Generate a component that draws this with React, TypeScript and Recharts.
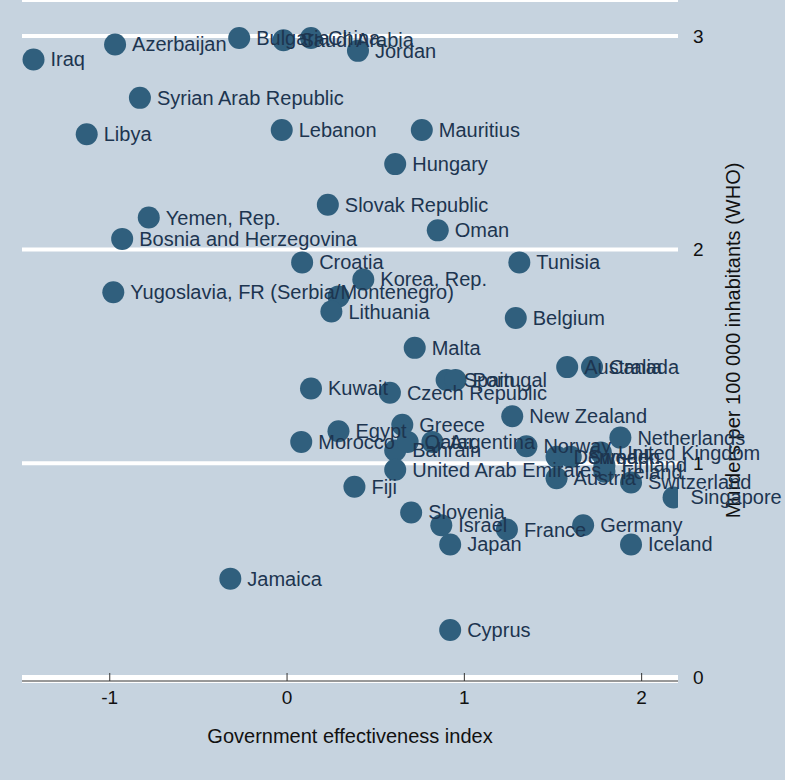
import React from 'react';
import { ScatterChart, Scatter, XAxis, YAxis, CartesianGrid, LabelList } from 'recharts';

const countries = ['Iraq','Azerbaijan','Bulgaria','China','Saudi Arabia','Jordan','Syrian Arab Republic','Libya','Lebanon','Mauritius','Hungary','Slovak Republic','Yemen, Rep.','Bosnia and Herzegovina','Oman','Croatia','Tunisia','Korea, Rep.','Yugoslavia, FR (Serbia/Montenegro)','','Lithuania','Belgium','Malta','Spain','Portugal','Australia','Canada','Kuwait','Czech Republic','New Zealand','Greece','Egypt','Morocco','Bahrain','Qatar','Argentina','Norway','Netherlands','United Kingdom','Denmark','Sweden','United Arab Emirates','Austria','Finland','Ireland','Switzerland','Singapore','Fiji','Slovenia','Israel','France','Germany','Japan','Iceland','Jamaica','Cyprus'];
const effectiveness = [-1.43,-0.97,-0.27,0.135,-0.02,0.40,-0.83,-1.13,-0.03,0.76,0.61,0.23,-0.78,-0.93,0.85,0.085,1.31,0.43,-0.98,0.29,0.25,1.29,0.72,0.90,0.95,1.58,1.72,0.135,0.58,1.27,0.65,0.29,0.08,0.61,0.68,0.82,1.35,1.88,1.77,1.52,1.60,0.61,1.52,1.79,1.79,1.94,2.18,0.38,0.70,0.87,1.24,1.67,0.92,1.94,-0.32,0.92];
const murders = [2.89,2.96,2.99,2.99,2.98,2.93,2.71,2.54,2.56,2.56,2.40,2.21,2.15,2.05,2.09,1.94,1.94,1.86,1.80,1.78,1.71,1.68,1.54,1.39,1.39,1.45,1.45,1.35,1.33,1.22,1.18,1.15,1.10,1.06,1.10,1.10,1.08,1.12,1.05,1.03,1.03,0.97,0.93,0.99,0.96,0.91,0.84,0.89,0.77,0.71,0.69,0.71,0.62,0.62,0.46,0.22];
const xTicks = [-1, 0, 1, 2];
const yTicks = [0, 1, 2, 3];

const data = countries.map((c, i) => ({ name: c, x: effectiveness[i], y: murders[i] }));
const font = 'Liberation Sans, Arial, sans-serif';

const PointLabel = (p: any) => (
  <text x={p.x + p.width / 2 + 17} y={p.y + p.height / 2} dy="0.35em" fill="#1d3550" fontSize={20} fontFamily={font}>{p.value}</text>
);

export default function App() {
  return (
    <div style={{ position: 'absolute', left: 0, top: 0, width: 785, height: 780, background: '#c6d3df', fontFamily: font }}>
      <ScatterChart width={785} height={780} margin={{ top: 0, right: 0, bottom: 0, left: 22 }}>
        <CartesianGrid horizontal={true} vertical={false} stroke="#ffffff" strokeWidth={4} />
        <XAxis type="number" dataKey="x" domain={[-1.495, 2.205]} ticks={xTicks} height={99}
          allowDataOverflow tickSize={-8} tickMargin={4}
          stroke="#333" tick={{ fill: '#111', fontSize: 19, fontFamily: font, dy: 14 }}
          label={{ value: 'Government effectiveness index', position: 'insideTop', offset: 48, fill: '#111', fontSize: 20, fontFamily: font }} />
        <YAxis type="number" dataKey="y" orientation="right" domain={[-0.019, 3.168]} ticks={yTicks} width={107}
          allowDataOverflow axisLine={false} tickLine={false} tickMargin={9}
          tick={{ fill: '#111', fontSize: 19, fontFamily: font, textAnchor: 'start' }}
          label={{ value: 'Murders per 100 000 inhabitants (WHO)', angle: -90, position: 'insideLeft', offset: 55, fill: '#111', fontSize: 20, fontFamily: font, style: { textAnchor: 'middle' } }} />
        <Scatter data={data} fill="#305f7d" isAnimationActive={false}
          shape={(p: any) => <circle cx={p.cx} cy={p.cy} r={11} fill="#305f7d" />}>
          <LabelList dataKey="name" content={PointLabel} />
        </Scatter>
      </ScatterChart>
    </div>
  );
}
